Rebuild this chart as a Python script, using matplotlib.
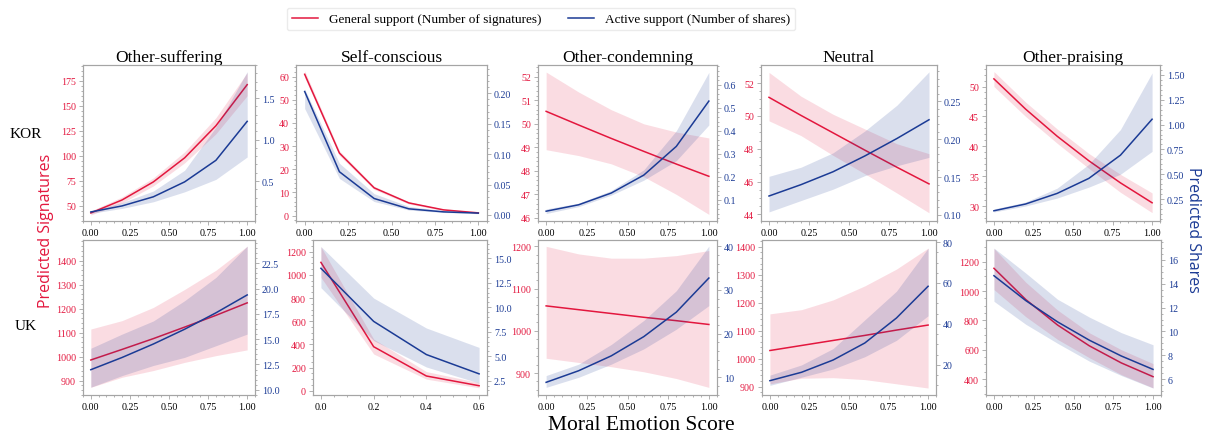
import matplotlib.pyplot as plt
from matplotlib.lines import Line2D
from matplotlib.ticker import MultipleLocator, AutoMinorLocator

plt.rcParams['font.family'] = 'Liberation Serif'

RED = '#E3173E'
BLUE = '#1B3B95'

x6 = [0.0, 0.2, 0.4, 0.6, 0.8, 1.0]
x4 = [0.0, 0.2, 0.4, 0.6]

emotions = ['Other-suffering', 'Self-conscious', 'Other-condemning', 'Neutral', 'Other-praising']
countries = ['KOR', 'UK']

# KOR
kor_suff_sig = [43, 56, 74, 98, 130, 171]
kor_suff_sig_lo = [41, 53, 70, 93, 122, 160]
kor_suff_sig_hi = [45, 59, 78, 104, 138, 183]
kor_suff_sh = [0.127, 0.20, 0.31, 0.49, 0.75, 1.22]
kor_suff_sh_lo = [0.11, 0.17, 0.25, 0.37, 0.52, 0.79]
kor_suff_sh_hi = [0.14, 0.24, 0.38, 0.63, 1.15, 1.82]

kor_self_sig = [61, 27, 12, 5.5, 2.5, 1.2]
kor_self_sig_lo = [59.5, 26, 11.3, 5.0, 2.2, 1.0]
kor_self_sig_hi = [62.5, 28, 12.7, 6.0, 2.8, 1.4]
kor_self_sh = [0.203, 0.071, 0.027, 0.010, 0.005, 0.003]
kor_self_sh_lo = [0.175, 0.060, 0.022, 0.008, 0.004, 0.002]
kor_self_sh_hi = [0.207, 0.085, 0.035, 0.014, 0.007, 0.004]

kor_cond_sig = [50.53, 49.95, 49.38, 48.83, 48.29, 47.77]
kor_cond_sig_lo = [48.9, 48.65, 48.3, 47.75, 47.0, 46.15]
kor_cond_sig_hi = [52.2, 51.35, 50.6, 50.0, 49.65, 49.4]
kor_cond_sh = [0.05, 0.078, 0.129, 0.207, 0.332, 0.529]
kor_cond_sh_lo = [0.04, 0.07, 0.12, 0.185, 0.27, 0.425]
kor_cond_sh_hi = [0.06, 0.085, 0.14, 0.23, 0.40, 0.654]

kor_neut_sig = [51.13, 50.03, 48.97, 47.91, 46.87, 45.86]
kor_neut_sig_lo = [49.7, 48.8, 47.6, 46.47, 45.3, 44.1]
kor_neut_sig_hi = [52.65, 51.2, 50.1, 49.2, 48.3, 47.7]
kor_neut_sh = [0.125, 0.140, 0.157, 0.178, 0.201, 0.2257]
kor_neut_sh_lo = [0.104, 0.119, 0.134, 0.152, 0.165, 0.176]
kor_neut_sh_hi = [0.151, 0.163, 0.182, 0.211, 0.245, 0.289]

kor_prai_sig = [51.28, 46.23, 41.68, 37.58, 33.88, 30.55]
kor_prai_sig_lo = [50.0, 45.0, 40.5, 36.3, 32.3, 28.9]
kor_prai_sig_hi = [52.5, 47.4, 42.9, 38.8, 35.3, 32.2]
kor_prai_sh = [0.132, 0.20, 0.307, 0.458, 0.692, 1.054]
kor_prai_sh_lo = [0.12, 0.18, 0.26, 0.37, 0.50, 0.73]
kor_prai_sh_hi = [0.15, 0.22, 0.36, 0.60, 0.95, 1.52]

# UK
uk_suff_sig = [986, 1030, 1075, 1123, 1172, 1224]
uk_suff_sig_lo = [872, 914, 942, 976, 1004, 1028]
uk_suff_sig_hi = [1115, 1150, 1205, 1280, 1360, 1460]
uk_suff_sh = [11.98, 13.19, 14.52, 15.98, 17.6, 19.37]
uk_suff_sh_lo = [10.25, 11.4, 12.4, 13.2, 14.35, 15.5]
uk_suff_sh_hi = [14.1, 15.5, 16.8, 18.8, 21.1, 24.2]

uk_self_sig = [1108, 380, 127, 43]
uk_self_sig_lo = [979, 317, 100, 25]
uk_self_sig_hi = [1243, 446, 165, 70]
uk_self_sh = [13.98, 8.56, 5.17, 3.2]
uk_self_sh_lo = [12.0, 6.6, 3.9, 2.26]
uk_self_sh_hi = [16.2, 10.94, 7.88, 5.9]

uk_cond_sig = [1059, 1050, 1041, 1032, 1024, 1015]
uk_cond_sig_lo = [935, 925, 915, 903, 887, 866]
uk_cond_sig_hi = [1200, 1182, 1172, 1172, 1178, 1190]
uk_cond_sh = [8.85, 11.5, 14.9, 19.3, 24.9, 32.7]
uk_cond_sh_lo = [7.7, 10.0, 13.0, 16.5, 21.0, 26.4]
uk_cond_sh_hi = [10.4, 13.0, 17.5, 23.0, 29.8, 40.0]

uk_neut_sig = [1029, 1047, 1065, 1083, 1102, 1120]
uk_neut_sig_lo = [910, 930, 932, 925, 910, 895]
uk_neut_sig_hi = [1160, 1175, 1210, 1260, 1320, 1395]
uk_neut_sh = [12.3, 16.4, 22.4, 30.7, 42.9, 58.4]
uk_neut_sh_lo = [10, 14, 18, 24, 32, 44]
uk_neut_sh_hi = [15, 20, 28, 42, 56, 77]

uk_prai_sig = [1155, 942, 768, 626, 510, 416]
uk_prai_sig_lo = [1010, 825, 670, 545, 430, 340]
uk_prai_sig_hi = [1290, 1060, 870, 715, 600, 505]
uk_prai_sh = [14.68, 12.59, 10.8, 9.26, 7.94, 6.81]
uk_prai_sh_lo = [12.53, 10.6, 9.0, 7.5, 6.3, 5.24]
uk_prai_sh_hi = [17.0, 14.9, 12.7, 11.2, 9.9, 8.88]

panels = [
    # row 0
    (x6, kor_suff_sig, kor_suff_sig_lo, kor_suff_sig_hi, kor_suff_sh, kor_suff_sh_lo, kor_suff_sh_hi),
    (x6, kor_self_sig, kor_self_sig_lo, kor_self_sig_hi, kor_self_sh, kor_self_sh_lo, kor_self_sh_hi),
    (x6, kor_cond_sig, kor_cond_sig_lo, kor_cond_sig_hi, kor_cond_sh, kor_cond_sh_lo, kor_cond_sh_hi),
    (x6, kor_neut_sig, kor_neut_sig_lo, kor_neut_sig_hi, kor_neut_sh, kor_neut_sh_lo, kor_neut_sh_hi),
    (x6, kor_prai_sig, kor_prai_sig_lo, kor_prai_sig_hi, kor_prai_sh, kor_prai_sh_lo, kor_prai_sh_hi),
    # row 1
    (x6, uk_suff_sig, uk_suff_sig_lo, uk_suff_sig_hi, uk_suff_sh, uk_suff_sh_lo, uk_suff_sh_hi),
    (x4, uk_self_sig, uk_self_sig_lo, uk_self_sig_hi, uk_self_sh, uk_self_sh_lo, uk_self_sh_hi),
    (x6, uk_cond_sig, uk_cond_sig_lo, uk_cond_sig_hi, uk_cond_sh, uk_cond_sh_lo, uk_cond_sh_hi),
    (x6, uk_neut_sig, uk_neut_sig_lo, uk_neut_sig_hi, uk_neut_sh, uk_neut_sh_lo, uk_neut_sh_hi),
    (x6, uk_prai_sig, uk_prai_sig_lo, uk_prai_sig_hi, uk_prai_sh, uk_prai_sh_lo, uk_prai_sh_hi),
]

# axis layout in pixels: (left, right, top, bottom)
W, H = 1205, 439
boxes = [
    (83, 255, 66, 222), (296, 487, 66, 222), (538, 717, 66, 222), (761, 937, 66, 222), (986, 1160, 66, 222),
    (83, 255, 241, 396), (313, 487, 241, 396), (538, 717, 241, 396), (762, 936, 241, 396), (986, 1161, 241, 396),
]
# (red ylim, red step, blue ylim, blue step, x step)
scales = [
    ((35, 190.6), 25, (0.018, 1.9), 0.5, 0.25),
    ((-2.3, 65), 10, (-0.01, 0.2466), 0.05, 0.25),
    ((45.87, 52.5), 1, (0.0074, 0.686), 0.1, 0.25),
    ((43.6, 53.1), 2, (0.092, 0.298), 0.05, 0.25),
    ((27.5, 53.6), 5, (0.029, 1.6), 0.25, 0.25),
    ((840, 1486), 100, (9.48, 24.8), 2.5, 0.25),
    ((-37, 1301), 200, (1.04, 16.87), 2.5, 0.2),
    ((848, 1215), 100, (5.95, 41.4), 10, 0.25),
    ((870, 1424), 100, (5.3, 81), 20, 0.25),
    ((291, 1348), 200, (4.66, 17.68), 2, 0.25),
]

fig = plt.figure(figsize=(W / 100, H / 100), dpi=100)

for i, (p, b, s) in enumerate(zip(panels, boxes, scales)):
    x, sig, sig_lo, sig_hi, sh, sh_lo, sh_hi = p
    l, r, t, bt = b
    ax = fig.add_axes([l / W, 1 - bt / H, (r - l) / W, (bt - t) / H])
    ax2 = ax.twinx()

    ax.fill_between(x, sig_lo, sig_hi, color=RED, alpha=0.15, linewidth=0)
    ax.plot(x, sig, color=RED, lw=1.1)
    ax2.fill_between(x, sh_lo, sh_hi, color=BLUE, alpha=0.16, linewidth=0)
    ax2.plot(x, sh, color=BLUE, lw=1.1)

    ax.set_xlim(x[0] - 0.05 * (x[-1] - x[0]), x[-1] + 0.05 * (x[-1] - x[0]))
    ax.set_ylim(*s[0])
    ax2.set_ylim(*s[2])
    ax.yaxis.set_major_locator(MultipleLocator(s[1]))
    ax2.yaxis.set_major_locator(MultipleLocator(s[3]))
    ax.xaxis.set_major_locator(MultipleLocator(s[4]))
    for a in (ax, ax2):
        a.xaxis.set_minor_locator(AutoMinorLocator())
        a.yaxis.set_minor_locator(AutoMinorLocator())
        for sp in a.spines.values():
            sp.set_color('#a5a5a5')
            sp.set_linewidth(0.8)
        a.tick_params(which='both', direction='out', color='#a5a5a5', width=0.6, labelsize=7.2, pad=2)
        a.tick_params(which='major', length=3)
        a.tick_params(which='minor', length=1.5)
    ax.tick_params(axis='y', labelcolor=RED)
    ax2.tick_params(axis='y', labelcolor=BLUE)

    if i < 5:
        ax.set_title(emotions[i], fontsize=12.5, pad=3)

fig.text(26 / W, 1 - 135 / H, countries[0], fontsize=11, ha='center', va='center')
fig.text(26 / W, 1 - 327 / H, countries[1], fontsize=11, ha='center', va='center')
fig.text(641 / W, 1 - 426 / H, 'Moral Emotion Score', fontsize=15.5, ha='center', va='center')
fig.text(46 / W, 1 - 231 / H, 'Predicted Signatures', fontsize=11.5, color=RED,
         rotation=90, ha='center', va='center', family='Open Sans')
fig.text(1193 / W, 1 - 230 / H, 'Predicted Shares', fontsize=11.5, color=BLUE,
         rotation=270, ha='center', va='center', family='Open Sans')

handles = [Line2D([], [], color=RED, lw=1.1), Line2D([], [], color=BLUE, lw=1.1)]
fig.legend(handles, ['General support (Number of signatures)', 'Active support (Number of shares)'],
           loc='center', bbox_to_anchor=(541 / W, 1 - 20 / H), ncol=2, fontsize=9.5,
           frameon=True, edgecolor='#e6e6e6', columnspacing=2.0)

fig.savefig('out.png', dpi=100)
